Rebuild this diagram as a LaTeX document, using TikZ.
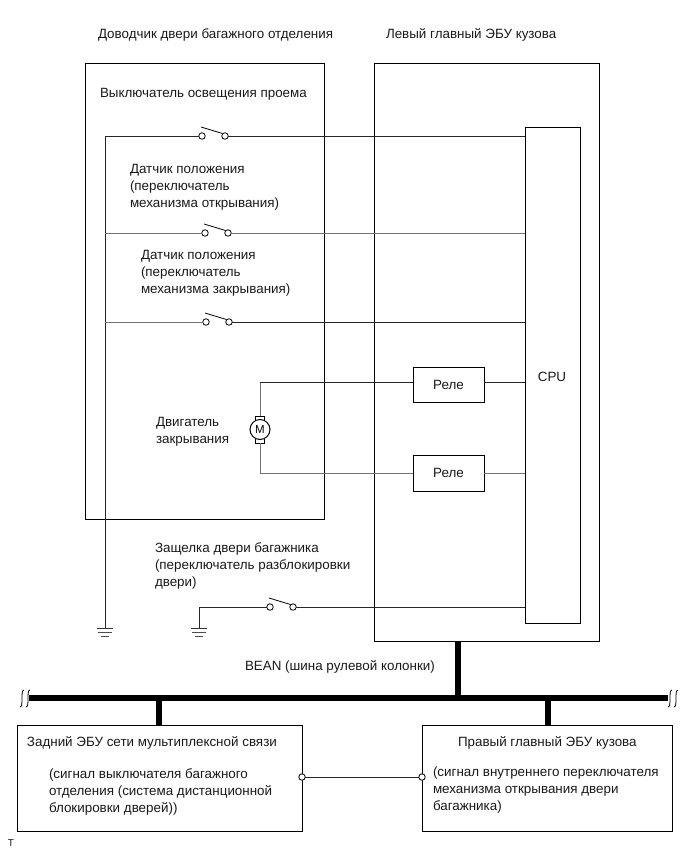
\documentclass[tikz,border=0pt]{standalone}
\usepackage{fontspec}
\setmainfont{Liberation Sans}
\usetikzlibrary{calc}
\tikzset{
  x=1pt,y=-1pt,
  wire/.style={line width=0.8pt,draw=black!85},
  graywire/.style={line width=0.9pt,draw=black!55},
  box/.style={draw=black,line width=0.9pt,inner sep=0pt,outer sep=0pt},
  bus/.style={line width=6pt,draw=black},
  lbl/.style={anchor=north west,inner sep=0pt,outer sep=0pt,align=left,font=\fontsize{13.4}{17}\selectfont,text=black!90},
  ctr/.style={inner sep=0pt,font=\fontsize{13.4}{15}\selectfont,text=black!90},
  contact/.style={circle,draw=black,line width=0.8pt,fill=white,minimum size=6.5pt,inner sep=0pt,outer sep=0pt},
  blade/.style={line width=0.8pt,draw=black},
  gnd/.style={line width=0.8pt,draw=black!70},
}
\newcommand{\boxat}[6][]{\node[box,minimum width=#5 pt-#3 pt,minimum height=#6 pt-#4 pt,anchor=north west,#1] (#2) at (#3,#4) {};}
\begin{document}
\begin{tikzpicture}
\useasboundingbox (0,0) rectangle (690,855);
% boxes
\boxat{door}{85}{63.5}{324.5}{519}
\boxat{ecu}{374}{63}{599}{641}
\boxat{cpu}{525}{127}{580}{623}
\boxat{relaya}{413}{367}{484}{402}
\boxat{relayb}{413}{455}{484}{491}
\boxat{rear}{17}{725}{302}{831}
\boxat{right}{422}{725}{672}{831}
\node[ctr] at (relaya) {Реле};
\node[ctr] at (relayb) {Реле};
\node[ctr] at (552,377) {CPU};
% switches
\node[contact] (a1) at (202,136) {}; \node[contact] (a2) at (225,136) {};
\node[contact] (b1) at (205,233) {}; \node[contact] (b2) at (228,233) {};
\node[contact] (c1) at (206,322) {}; \node[contact] (c2) at (229,322) {};
\node[contact] (d1) at (270,607) {}; \node[contact] (d2) at (293,607) {};
\coordinate (topl) at (105,136);
\coordinate (midl) at (105,233);
\coordinate (lowl) at (105,322);
\coordinate (gnda) at (105,628);
\coordinate (gndbt) at (199,607);
\coordinate (gndb) at (199,628);
\draw[wire] (gnda) -- (topl) -- (a1);
\draw[wire] (a2) -- (a2 -| cpu.west);
\draw[graywire] (midl) -- (b1);
\draw[graywire] (b2) -- (b2 -| cpu.west);
\draw[graywire] (lowl) -- (c1);
\draw[wire] (c2) -- (c2 -| cpu.west);
\draw[wire] (gndb) -- (gndbt) -- (d1);
\draw[wire] (d2) -- (d2 -| cpu.west);
\foreach \n in {a,b,c,d}{
  \draw[blade] ($(\n1)+(-1,-9)$) -- ($(\n2)+(-2.5,-2.5)$);
}
% grounds
\foreach \g in {gnda,gndb}{
  \draw[line width=0.9pt,draw=black!80] ($(\g)+(-8,0)$) -- ($(\g)+(8,0)$);
  \draw[gnd] ($(\g)+(-7,4)$) -- ($(\g)+(7,4)$);
  \draw[gnd] ($(\g)+(-4,8)$) -- ($(\g)+(4,8)$);
}
% motor
\node[circle,draw=black,line width=1pt,minimum size=20pt,inner sep=0pt,outer sep=0pt,font=\fontsize{11.5}{12}\selectfont] (motor) at (260,429.5) {M};
\draw[line width=0.9pt,draw=black] (255.5,420.5) -- (255.5,416) -- (264.5,416) -- (264.5,420.5);
\draw[line width=0.9pt,draw=black] (255.5,438.5) -- (255.5,443) -- (264.5,443) -- (264.5,438.5);
\coordinate (motop) at (260,382);
\coordinate (mobot) at (260,473);
\draw[graywire] (motor.north |- 0,416) -- (motop);
\draw[wire] (motop) -- (relaya.west |- motop);
\draw[graywire] (motor.south |- 0,443) -- (mobot) -- (relayb.west |- mobot);
\draw[wire] (relaya.east |- motop) -- (cpu.west |- motop);
\draw[graywire] (relayb.east |- mobot) -- (cpu.west |- mobot);
% bus
\coordinate (busl) at (29,698);
\coordinate (busr) at (668,698);
\draw[bus] (busl) -- (busr);
\draw[bus] (ecu.south -| 458,0) -- (458,698);
\draw[bus] (159,698) -- (rear.north -| 159,0);
\draw[bus] (548,698) -- (right.north -| 548,0);
\foreach \x in {22,28,670,676}{
  \draw[line width=0.8pt] (\x-2,707) .. controls (\x+2,707) and (\x-2,690) .. (\x+2,690);
}
% link
\node[contact] (e1) at (302,777) {};
\node[contact] (e2) at (422,777) {};
\draw[wire] (e1) -- (e2);
% labels
\node[lbl] (t1) at (98,29) {Доводчик двери багажного отделения};
\node[lbl] (t2) at (386,29) {Левый главный ЭБУ кузова};
\node[lbl] (t3) at (100,88) {Выключатель освещения проема};
\node[lbl] (t4) at (130,164) {Датчик положения\\(переключатель\\механизма открывания)};
\node[lbl] (t5) at (141,250) {Датчик положения\\(переключатель\\механизма закрывания)};
\node[lbl] (t6) at (156,417) {Двигатель\\закрывания};
\node[lbl] (t7) at (155,543) {Защелка двери багажника\\(переключатель разблокировки\\двери)};
\node[lbl] (t8) at (245,661) {BEAN (шина рулевой колонки)};
\node[lbl] (t9) at (27,737) {Задний ЭБУ сети мультиплексной связи};
\node[lbl] (t10) at (49,769) {(сигнал выключателя багажного\\отделения (система дистанционной\\блокировки дверей))};
\node[lbl] (t11) at (458,737) {Правый главный ЭБУ кузова};
\node[lbl] (t12) at (433,767) {(сигнал внутреннего переключателя\\механизма открывания двери\\багажника)};
\node[lbl,font=\fontsize{10}{10}\selectfont] (t13) at (8,840) {T};
\end{tikzpicture}
\end{document}
